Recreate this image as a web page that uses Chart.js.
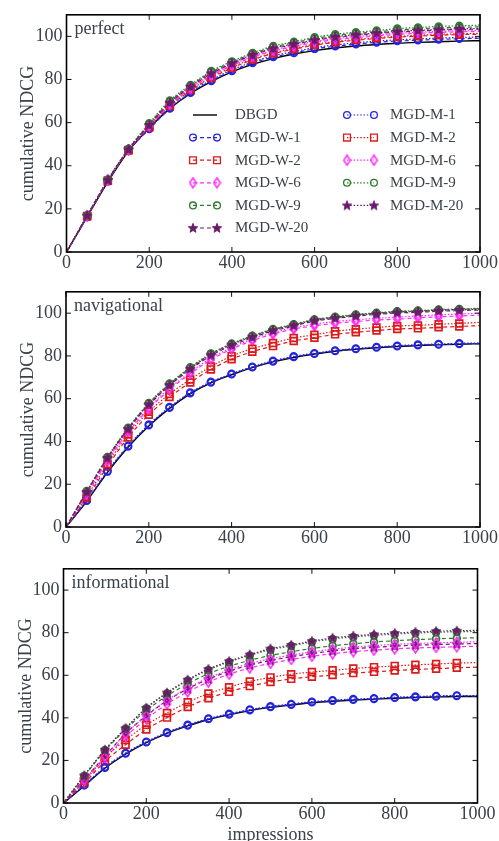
<!DOCTYPE html>
<html><head><meta charset="utf-8">
<script src="https://cdn.jsdelivr.net/npm/chart.js@4/dist/chart.umd.min.js"></script>
<style>
html,body{margin:0;padding:0;background:#fff;overflow:hidden;width:499px;height:841px;}
.p{position:absolute;left:0;}
canvas{display:block;}
</style></head><body>
<div class="p" style="top:0px"><canvas id="c1" width="499" height="276"></canvas></div>
<div class="p" style="top:277px"><canvas id="c2" width="499" height="276"></canvas></div>
<div class="p" style="top:554px"><canvas id="c3" width="499" height="300"></canvas></div>
<script>
// ---------- data ----------
const IMPRESSIONS = [0,50,100,150,200,250,300,350,400,450,500,550,600,650,700,750,800,850,900,950,1000];
const SERIES = ['DBGD','MGD-W-1','MGD-W-2','MGD-W-6','MGD-W-9','MGD-W-20','MGD-M-1','MGD-M-2','MGD-M-6','MGD-M-9','MGD-M-20'];
const PANELS = ['perfect','navigational','informational'];
const X_TICKS = [0,200,400,600,800,1000];
const Y_TICKS = [0,20,40,60,80,100];

// perfect
const PERF_DBGD = [0,16.3,32.5,46.8,57.5,66.5,73.5,79.0,83.5,87.0,89.7,91.8,93.4,94.6,95.5,96.2,96.8,97.2,97.5,97.8,98.0];
const PERF_W1  = [0,16.4,32.7,47.0,57.0,66.5,73.8,79.3,83.9,87.6,90.4,92.3,94.2,95.4,96.4,97.2,97.8,98.2,98.6,98.9,99.1];
const PERF_W2  = [0,16.6,33.0,47.2,57.8,67.6,74.9,80.6,85.3,89.1,92.0,94.0,95.9,97.2,98.2,99.0,99.6,100.1,100.5,100.8,101.0];
const PERF_W6  = [0,16.7,33.2,47.4,58.3,68.3,75.8,81.7,86.4,90.3,93.2,95.2,97.1,98.4,99.4,100.2,100.9,101.4,101.8,102.1,102.3];
const PERF_W9  = [0,16.9,33.4,47.7,59.3,69.8,77.1,83.4,88.0,91.9,95.0,97.0,99.0,100.4,101.3,102.1,102.9,103.4,103.9,104.2,104.4];
const PERF_W20 = [0,16.8,33.3,47.5,58.7,69.0,76.5,82.6,87.3,91.2,94.2,96.2,98.1,99.5,100.5,101.3,102.0,102.5,102.9,103.2,103.4];
const PERF_M1  = [0,16.5,32.9,47.1,57.3,66.9,74.2,79.8,84.4,88.1,91.0,92.9,94.8,96.0,97.0,97.8,98.4,98.8,99.2,99.5,99.7];
const PERF_M2  = [0,16.7,33.1,47.3,58.0,67.9,75.3,81.0,85.7,89.5,92.4,94.4,96.3,97.6,98.6,99.4,100.0,100.5,100.9,101.2,101.4];
const PERF_M6  = [0,16.8,33.3,47.5,58.5,68.6,76.1,82.0,86.8,90.7,93.6,95.7,97.6,98.9,99.9,100.7,101.4,101.9,102.3,102.6,102.8];
const PERF_M9  = [0,17.0,33.6,47.9,59.7,70.3,77.5,83.9,88.4,92.3,95.5,97.5,99.6,101.0,101.9,102.7,103.6,104.1,104.6,104.9,105.2];
const PERF_M20 = [0,16.9,33.4,47.6,58.9,69.3,76.8,82.9,87.6,91.5,94.5,96.5,98.4,99.8,100.8,101.6,102.3,102.8,103.2,103.5,103.7];

// navigational
const NAV_DBGD = [0,12.0,25.5,37.3,47.2,55.5,62.3,67.4,71.2,74.5,77.2,79.3,80.9,82.2,83.1,83.8,84.4,84.9,85.2,85.5,85.7];
const NAV_W1  = [0,12.3,25.9,37.7,47.6,55.8,62.6,67.6,71.4,74.7,77.4,79.5,81.0,82.3,83.2,83.9,84.5,85.0,85.3,85.6,85.8];
const NAV_W2  = [0,13.4,28.3,41.9,52.5,60.8,67.6,73.7,78.5,82.0,84.6,87.0,88.5,90.1,91.1,91.9,92.6,92.9,93.4,93.8,94.2];
const NAV_W6  = [0,15.3,30.8,44.3,55.2,64.2,71.7,78.2,83.2,87.2,90.2,92.6,94.1,95.3,96.1,96.8,97.2,97.8,98.3,98.7,99.1];
const NAV_W9  = [0,16.6,32.5,46.2,57.7,66.8,74.4,80.9,85.5,89.3,92.4,94.6,96.9,98.1,99.2,100.0,100.7,101.0,101.5,101.8,102.1];
const NAV_W20 = [0,16.2,32.0,45.6,57.0,66.1,73.7,80.1,84.8,88.6,91.7,94.0,96.3,97.5,98.6,99.4,100.1,100.4,100.9,101.2,101.5];
const NAV_M1  = [0,12.5,26.2,38.0,47.9,56.1,62.9,67.9,71.7,75.0,77.7,79.8,81.3,82.6,83.5,84.2,84.8,85.3,85.6,85.9,86.1];
const NAV_M2  = [0,14.2,29.5,43.3,53.9,62.2,69.0,75.1,79.9,83.4,86.0,88.4,89.9,91.5,92.5,93.3,94.0,94.3,94.8,95.2,95.7];
const NAV_M6  = [0,15.6,31.2,44.8,55.8,64.9,72.4,78.9,83.9,87.9,90.9,93.3,94.9,96.1,96.9,97.6,98.1,98.7,99.2,99.6,100.0];
const NAV_M9  = [0,16.8,32.7,46.4,58.0,67.1,74.7,81.2,85.8,89.5,92.6,94.8,97.1,98.3,99.4,100.2,100.9,101.2,101.7,102.0,102.3];
const NAV_M20 = [0,16.4,32.3,45.9,57.4,66.5,74.1,80.6,85.3,89.0,92.1,94.4,96.7,97.9,99.0,99.8,100.5,100.8,101.3,101.6,101.9];

// informational
const INF_DBGD = [0,8.0,16.3,22.9,28.3,32.7,36.2,39.2,41.4,43.4,44.9,46.0,47.1,47.8,48.3,48.8,49.2,49.5,49.8,50.0,50.0];
const INF_W1  = [0,8.3,16.6,23.2,28.5,32.9,36.4,39.4,41.6,43.6,45.1,46.2,47.3,48.0,48.5,48.9,49.4,49.7,50.0,50.3,50.2];
const INF_W2  = [0,9.3,19.5,27.4,34.5,40.1,45.1,49.2,52.2,54.9,56.8,58.3,59.3,60.1,61.0,61.6,62.2,62.7,63.1,63.5,63.8];
const INF_W6  = [0,10.4,20.8,31.2,39.4,46.5,52.2,56.8,60.5,63.4,65.6,67.4,68.9,70.1,71.1,71.8,72.4,72.8,73.1,73.4,73.6];
const INF_W9  = [0,12.5,24.5,34.5,43.5,50.3,56.0,60.7,64.2,67.0,69.3,71.0,72.6,73.8,74.8,75.6,76.2,76.7,77.1,77.4,77.6];
const INF_W20 = [0,11.0,22.0,32.6,41.0,48.0,53.6,58.2,61.9,64.8,66.9,68.7,70.2,71.4,72.4,73.1,73.7,74.1,74.4,74.7,74.9];
const INF_M1  = [0,8.5,16.9,23.5,28.8,33.2,36.7,39.7,41.9,43.9,45.4,46.5,47.6,48.3,48.8,49.2,49.7,50.0,50.3,50.5,50.5];
const INF_M2  = [0,10.3,21.3,29.6,36.7,42.3,47.3,51.4,54.4,57.1,59.0,60.5,61.5,62.3,63.2,63.8,64.4,64.9,65.3,65.7,66.0];
const INF_M6  = [0,10.9,21.8,32.5,41.0,48.2,54.0,58.7,62.5,65.5,67.7,69.5,71.0,72.2,73.2,73.9,74.5,74.9,75.2,75.5,75.7];
const INF_M9  = [0,12.8,24.9,35.0,44.5,51.5,57.5,62.5,66.2,69.3,72.0,73.8,75.6,77.0,78.0,78.7,79.3,79.8,80.2,80.4,80.6];
const INF_M20 = [0,12.9,25.0,35.1,44.7,51.8,57.9,62.9,66.6,69.7,72.5,74.2,76.0,77.5,78.5,79.2,79.8,80.3,80.7,80.9,81.1];

const PERF = [PERF_DBGD,PERF_W1,PERF_W2,PERF_W6,PERF_W9,PERF_W20,PERF_M1,PERF_M2,PERF_M6,PERF_M9,PERF_M20];
const NAV  = [NAV_DBGD,NAV_W1,NAV_W2,NAV_W6,NAV_W9,NAV_W20,NAV_M1,NAV_M2,NAV_M6,NAV_M9,NAV_M20];
const INF  = [INF_DBGD,INF_W1,INF_W2,INF_W6,INF_W9,INF_W20,INF_M1,INF_M2,INF_M6,INF_M9,INF_M20];

// ---------- styles ----------
const TXT = '#3a4148';
const FONT = '"Liberation Serif", "Times New Roman", serif';
const C_BLUE='#2424e0', C_RED='#dd1a1a', C_MAG='#ff2bff', C_GREEN='#2e7a2e', C_PURP='#6a1a6a';

function diamondImg(color){
  const c=document.createElement('canvas'); c.width=9; c.height=12;
  const g=c.getContext('2d'); g.strokeStyle=color; g.lineWidth=1.5;
  g.beginPath(); g.moveTo(4.5,1); g.lineTo(7.8,6); g.lineTo(4.5,11); g.lineTo(1.2,6); g.closePath(); g.stroke();
  return c;
}
function starImg(color){
  const c=document.createElement('canvas'); c.width=12; c.height=12;
  const g=c.getContext('2d'); g.fillStyle=color; g.strokeStyle=color; g.lineWidth=0.8;
  g.beginPath();
  for(let k=0;k<10;k++){
    const r = k%2===0 ? 5 : 2.2;
    const a = -Math.PI/2 + k*Math.PI/5;
    const px=6+r*Math.cos(a), py=6.3+r*Math.sin(a);
    if(k===0) g.moveTo(px,py); else g.lineTo(px,py);
  }
  g.closePath(); g.fill(); g.stroke();
  return c;
}
const DIAMOND = diamondImg(C_MAG);
const STAR = starImg(C_PURP);

const DASH_W = [4,3];
const DASH_M = [1.5,1.8];
const STYLE = [
  {color:'#000', dash:[], width:1.4, marker:null, r:0},
  {color:C_BLUE, dash:DASH_W, width:1.2, marker:'circle', r:3.4},
  {color:C_RED, dash:DASH_W, width:1.2, marker:'rect', r:4.8},
  {color:C_MAG, dash:DASH_W, width:1.2, marker:DIAMOND, r:4},
  {color:C_GREEN, dash:DASH_W, width:1.2, marker:'circle', r:3.4},
  {color:C_PURP, dash:DASH_W, width:1.2, marker:STAR, r:4},
  {color:C_BLUE, dash:DASH_M, width:1.2, marker:'circle', r:3.4},
  {color:C_RED, dash:DASH_M, width:1.2, marker:'rect', r:4.8},
  {color:C_MAG, dash:DASH_M, width:1.2, marker:DIAMOND, r:4},
  {color:C_GREEN, dash:DASH_M, width:1.2, marker:'circle', r:3.4},
  {color:C_PURP, dash:DASH_M, width:1.2, marker:STAR, r:4},
];

function buildDatasets(vals){
  const last = IMPRESSIONS.length-1;
  return SERIES.map((name,i)=>{
    const s = STYLE[i];
    return {
      label:name,
      data: IMPRESSIONS.map((x,j)=>({x:x, y:vals[i][j]})),
      borderColor:s.color, borderWidth:s.width, borderDash:s.dash,
      backgroundColor:'rgba(0,0,0,0)',
      pointStyle: s.marker || 'circle',
      pointRadius: (ctx)=> (!s.marker || ctx.dataIndex===0 || ctx.dataIndex===last) ? 0 : s.r,
      pointBorderColor:s.color, pointBackgroundColor:'rgba(0,0,0,0)', pointBorderWidth:1.7,
      cubicInterpolationMode:'monotone',
      fill:false,
      order: SERIES.length - i
    };
  });
}

// ---------- plugins ----------
const framePlugin = {
  id:'frame',
  afterDatasetsDraw(chart){
    const {ctx, chartArea:a, scales:{x,y}} = chart;
    ctx.save();
    ctx.strokeStyle='#111'; ctx.lineWidth=1;
    const L=5;
    ctx.beginPath();
    x.ticks.forEach(t=>{const p=x.getPixelForValue(t.value); ctx.moveTo(p,a.bottom); ctx.lineTo(p,a.bottom-L); ctx.moveTo(p,a.top); ctx.lineTo(p,a.top+L);});
    y.ticks.forEach(t=>{const p=y.getPixelForValue(t.value); ctx.moveTo(a.left,p); ctx.lineTo(a.left+L,p); ctx.moveTo(a.right,p); ctx.lineTo(a.right-L,p);});
    ctx.stroke();
    ctx.lineWidth=1.6; ctx.strokeStyle='#000';
    ctx.strokeRect(a.left,a.top,a.right-a.left,a.bottom-a.top);
    ctx.restore();
  }
};
const panelLabelPlugin = {
  id:'panelLabel',
  afterDatasetsDraw(chart, args, opts){
    const {ctx, chartArea:a} = chart;
    ctx.save();
    ctx.font = '18px '+FONT; ctx.fillStyle=TXT; ctx.textBaseline='alphabetic'; ctx.textAlign='left';
    ctx.fillText(opts.text, a.left+8, a.top+19);
    ctx.restore();
  }
};
function drawMarker(ctx, s, x, y){
  if(!s.marker) return;
  if(typeof s.marker !== 'string'){
    ctx.drawImage(s.marker, x - s.marker.width/2, y - s.marker.height/2);
    return;
  }
  ctx.beginPath();
  if(s.marker==='circle'){ ctx.arc(x,y,s.r,0,Math.PI*2); }
  else { const h=s.r/Math.SQRT2; ctx.rect(x-h,y-h,2*h,2*h); }
  ctx.stroke();
}
const LEG_COL1 = ['DBGD','MGD-W-1','MGD-W-2','MGD-W-6','MGD-W-9','MGD-W-20'];
const LEG_COL2 = ['MGD-M-1','MGD-M-2','MGD-M-6','MGD-M-9','MGD-M-20'];
const legendPlugin = {
  id:'legendBox',
  afterDatasetsDraw(chart){
    const ctx = chart.ctx;
    const cols = [{names:LEG_COL1, x1:193, x2:217, tx:235},{names:LEG_COL2, x1:347, x2:374, tx:390}];
    ctx.save();
    cols.forEach(col=>{
      col.names.forEach((name,k)=>{
        const i = SERIES.indexOf(name); const s = STYLE[i];
        const yy = 115 + k*22.6;
        ctx.strokeStyle=s.color; ctx.lineWidth=s.width; ctx.setLineDash(s.dash);
        ctx.beginPath(); ctx.moveTo(col.x1,yy); ctx.lineTo(col.x2,yy); ctx.stroke();
        ctx.setLineDash([]); ctx.lineWidth=1.3;
        drawMarker(ctx,s,col.x1,yy); drawMarker(ctx,s,col.x2,yy);
        ctx.font='15px '+FONT; ctx.fillStyle=TXT; ctx.textBaseline='middle'; ctx.textAlign='left';
        ctx.fillText(name, col.tx, yy+0.5);
      });
    });
    ctx.restore();
  }
};

// ---------- charts ----------
function makeChart(id, vals, cfg){
  const tickFont = {family:FONT, size:18};
  return new Chart(document.getElementById(id), {
    type:'line',
    data:{datasets: buildDatasets(vals)},
    options:{
      responsive:false, animation:false, events:[],
      layout:{padding:{top:cfg.pt, right:cfg.pr, left:0, bottom:0}},
      plugins:{legend:{display:false}, tooltip:{enabled:false}, panelLabel:{text:cfg.label}},
      scales:{
        x:{type:'linear', min:0, max:1000,
           afterBuildTicks(s){ s.ticks = X_TICKS.map(v=>({value:v})); },
           grid:{display:false, drawTicks:false}, border:{display:false},
           ticks:{padding:cfg.xpad, font:tickFont, color:TXT, maxRotation:0, autoSkip:false, callback:(v)=>String(v)},
           title: cfg.xtitle ? {display:true, text:'impressions', font:tickFont, color:TXT, padding:{top:0,bottom:cfg.tb}} : {display:false},
           afterFit(s){ s.height = cfg.xh; }},
        y:{type:'linear', min:0, max:110,
           afterBuildTicks(s){ s.ticks = Y_TICKS.map(v=>({value:v})); },
           grid:{display:false, drawTicks:false}, border:{display:false},
           ticks:{padding:4, font:tickFont, color:TXT, callback:(v)=>String(v)},
           title:{display:true, text:'cumulative NDCG', font:tickFont, color:TXT, padding:{top:cfg.yt,bottom:0}},
           afterFit(s){ s.width = cfg.yw; }}
      }
    },
    plugins:[framePlugin, panelLabelPlugin].concat(cfg.legend ? [legendPlugin] : [])
  });
}

makeChart('c1', PERF, {label:PANELS[0], pt:8, pr:19, yw:66.5, xh:24, xpad:0, yt:17, legend:true});
makeChart('c2', NAV,  {label:PANELS[1], pt:7, pr:19, yw:66, xh:26, xpad:0, yt:17});
makeChart('c3', INF,  {label:PANELS[2], pt:7, pr:21.5, yw:63.5, xh:51, xpad:0, yt:15, xtitle:true, tb:8});
</script>
</body></html>
